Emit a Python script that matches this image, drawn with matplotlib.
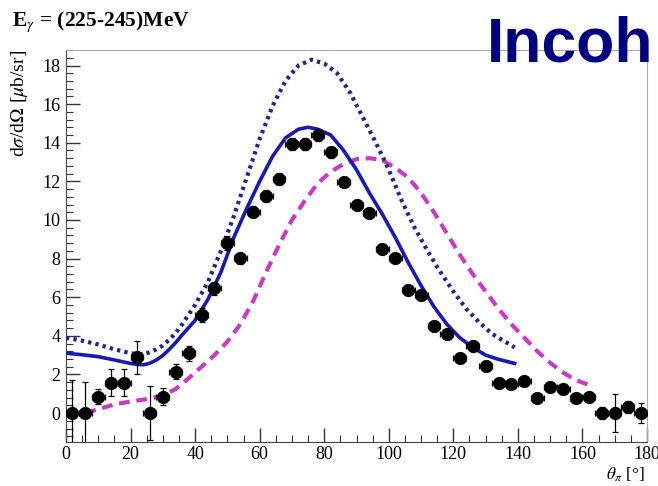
import matplotlib
matplotlib.use('Agg')
import matplotlib.pyplot as plt
from matplotlib.ticker import MultipleLocator

plt.rcParams['font.family'] = ['Liberation Serif', 'DejaVu Serif']
plt.rcParams['mathtext.fontset'] = 'stix'

# measured points (theta in degrees, cross section in mub/sr)
theta_data = [2, 6, 10, 14, 18, 22, 26, 30, 34, 38, 42, 46, 50, 54, 58, 62, 66, 70, 74, 78,
              82, 86, 90, 94, 98, 102, 106, 110, 114, 118, 122, 126, 130, 134, 138, 142,
              146, 150, 154, 158, 162, 166, 170, 174, 178]
xs_data = [0, 0, 0.85, 1.57, 1.57, 2.88, 0, 0.85, 2.14, 3.09, 5.08, 6.46, 8.82, 8.01, 10.43,
           11.24, 12.12, 13.94, 13.94, 14.4, 13.5, 11.98, 10.78, 10.38, 8.5, 8.01, 6.37, 6.11,
           4.51, 4.09, 2.83, 3.47, 2.44, 1.57, 1.5, 1.67, 0.76, 1.36, 1.23, 0.76, 0.81,
           0, 0, 0.3, 0]
xs_err = [1.7, 1.6, 0.4, 0.7, 0.7, 0.85, 1.4, 0.45, 0.4, 0.4, 0.35, 0.35, 0.35, 0.3, 0.3,
          0.3, 0.3, 0.3, 0.3, 0.3, 0.3, 0.25, 0.25, 0.25, 0.25, 0.25, 0.25, 0.25, 0.25, 0.25,
          0.25, 0.25, 0.25, 0.2, 0.2, 0.2, 0.2, 0.2, 0.2, 0.2, 0.2, 0.3, 1.0, 0.3, 0.5]

# model curves
theta_solid = [0, 5, 10, 15, 20, 22, 24, 26, 28, 30, 32, 34, 36, 40, 44, 48, 52, 56, 60, 64,
               68, 72, 75, 78, 82, 86, 90, 94, 98, 102, 106, 110, 114, 118, 122, 126, 130,
               134, 139]
xs_solid = [3.1, 3.02, 2.92, 2.75, 2.57, 2.52, 2.5, 2.58, 2.75, 2.98, 3.3, 3.65, 4.05, 4.8,
            5.9, 7.3, 9.1, 10.6, 12.0, 13.3, 14.25, 14.7, 14.8, 14.7, 14.4, 13.6, 12.6, 11.4,
            10.3, 9.1, 7.8, 6.6, 5.5, 4.6, 3.9, 3.4, 3.0, 2.78, 2.57]

theta_dotted = [0, 5, 10, 15, 20, 22, 24, 26, 28, 30, 32, 34, 36, 40, 44, 48, 52, 56, 60, 64,
                68, 72, 76, 80, 84, 88, 92, 96, 100, 104, 108, 112, 116, 120, 124, 128, 132,
                136, 139]
xs_dotted = [3.9, 3.75, 3.55, 3.3, 3.1, 3.05, 3.05, 3.15, 3.3, 3.5, 3.8, 4.15, 4.6, 5.6, 6.8,
             8.4, 10.2, 12.2, 14.2, 15.9, 17.2, 18.0, 18.3, 18.1, 17.6, 16.6, 15.3, 14.0,
             12.6, 11.0, 9.6, 8.4, 7.3, 6.3, 5.4, 4.7, 4.1, 3.7, 3.4]

theta_dashed = [6, 10, 15, 20, 25, 30, 34, 38, 42, 46, 50, 54, 58, 62, 66, 70, 74, 78, 82, 86,
                90, 94, 98, 102, 106, 110, 114, 118, 122, 126, 130, 134, 138, 142, 146, 150,
                154, 158, 163]
xs_dashed = [0, 0.2, 0.45, 0.6, 0.72, 0.9, 1.25, 1.8, 2.4, 3.0, 3.7, 4.6, 5.8, 7.3, 8.7, 10.0,
             11.0, 11.9, 12.5, 12.9, 13.15, 13.2, 13.1, 12.7, 12.2, 11.4, 10.4, 9.3, 8.2, 7.2,
             6.3, 5.4, 4.6, 3.9, 3.2, 2.6, 2.1, 1.7, 1.4]

fig = plt.figure(figsize=(6.58, 4.86), dpi=100)
ax = fig.add_axes([0.1003, 0.0905, 0.883, 0.8065])

ax.plot(theta_dashed, xs_dashed, color='#c93ac9', lw=3, ls=(0, (2.6, 1.6)), zorder=2)
ax.plot(theta_dotted, xs_dotted, color='#23238f', lw=3, ls=(0, (0.8, 1.0)), zorder=3)
ax.plot(theta_solid, xs_solid, color='#1818b4', lw=2.6, zorder=3)
ax.errorbar(theta_data, xs_data, yerr=xs_err, xerr=2, fmt='o', color='black', ms=8.5,
            elinewidth=0.9, capsize=2, capthick=0.9, zorder=4)

ax.set_xlim(0, 180)
ax.set_ylim(-1.5, 18.8)
ax.xaxis.set_major_locator(MultipleLocator(20))
ax.xaxis.set_minor_locator(MultipleLocator(5))
ax.yaxis.set_major_locator(MultipleLocator(2))
ax.yaxis.set_minor_locator(MultipleLocator(0.4))
ax.tick_params(which='both', direction='in', top=False, right=False, labelsize=13,
               color='#333333')
ax.tick_params(which='major', length=10, width=1)
ax.tick_params(which='minor', length=5, width=0.8)
ax.tick_params(axis='y', pad=4)
ax.tick_params(axis='x', pad=3)
for side in ['top', 'right']:
    ax.spines[side].set_color('#aaaaaa')
for side in ['left', 'bottom']:
    ax.spines[side].set_color('#444444')

fig.text(12 / 658, 1 - 26 / 486, r'E$_{\gamma}$ = (225-245)MeV', fontsize=15.5,
         fontweight='bold', ha='left', va='baseline')
fig.text(487 / 658, 1 - 62 / 486, 'Incoh', fontsize=45, fontweight='bold',
         family='Liberation Sans', color='#000080', ha='left', va='baseline')
fig.text(20 / 658, 1 - 50 / 486, r'd$\sigma$/d$\Omega$ [$\mu$b/sr]', fontsize=14,
         rotation=90, ha='center', va='top')
fig.text(645 / 658, 1 - 475 / 486, r'$\theta_{\pi}$ [°]', fontsize=12.5,
         ha='right', va='center')

fig.savefig('out.png', dpi=100)
